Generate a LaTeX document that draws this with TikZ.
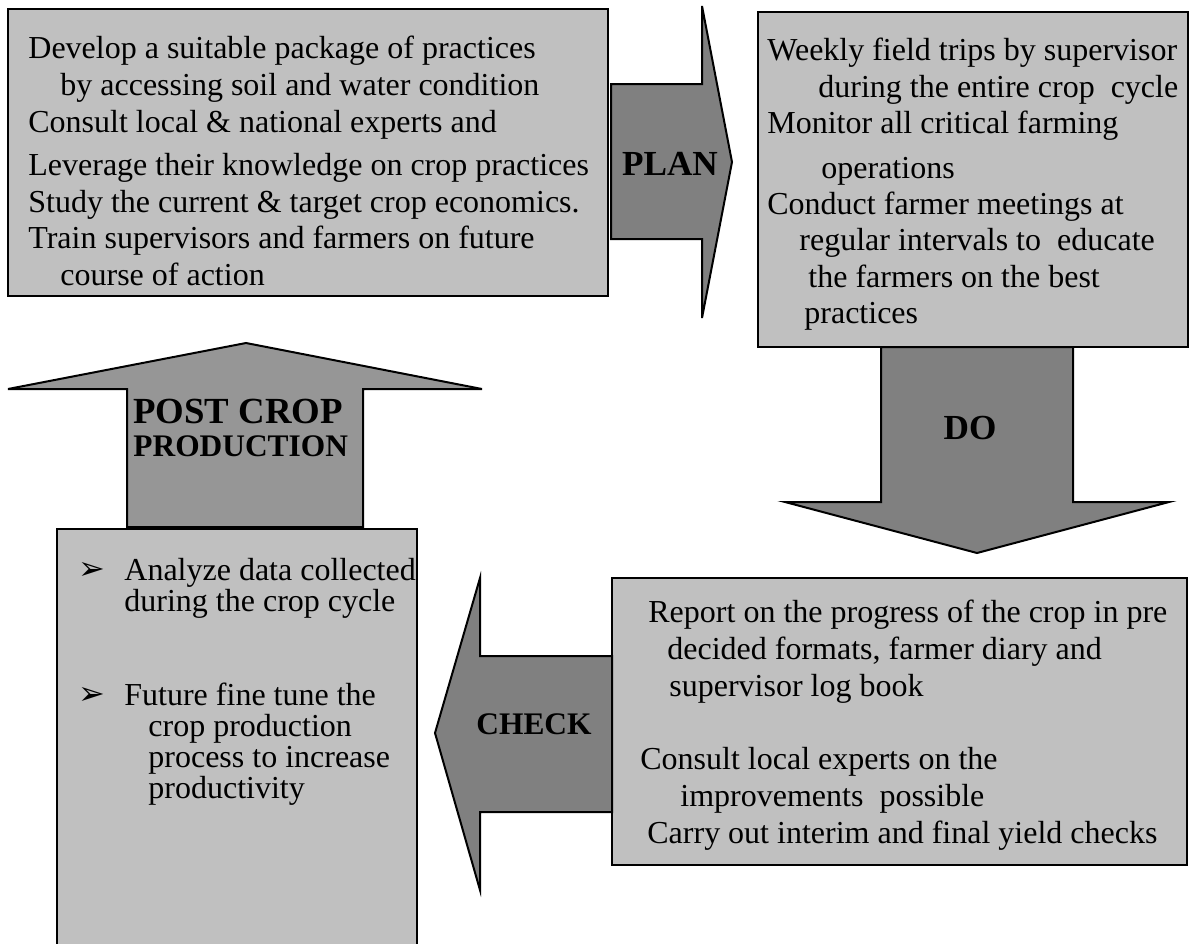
\documentclass[tikz,border=0pt]{standalone}
\usepackage{fontspec}
\setmainfont{Liberation Serif}
\newfontfamily\dingfont{DejaVu Sans}
\usetikzlibrary{positioning}
\definecolor{boxgray}{HTML}{C0C0C0}
\definecolor{arrgray}{HTML}{808080}
\definecolor{postgray}{HTML}{969696}
\newcommand{\bul}{\makebox[23pt][l]{\raisebox{0.5pt}{\dingfont\fontsize{16pt}{16pt}\selectfont ➢}}}

\begin{document}
\begin{tikzpicture}[x=0.5pt,y=-0.5pt,
  box/.style={draw,line width=1pt,fill=boxgray},
  blockarrow/.style={draw,line width=1pt,fill=arrgray,line join=miter},
  txt/.style={anchor=north west,inner sep=0pt,align=left,font=\fontsize{16pt}{18.4pt}\selectfont},
  lbl/.style={anchor=base,inner sep=0pt,font=\bfseries\fontsize{17.6pt}{20pt}\selectfont}]
\useasboundingbox (0,0) rectangle (1191,944);
\clip (0,0) rectangle (1191,944);

% text boxes
\draw[box] (8,9) rectangle (608,296);
\draw[box] (758,12) rectangle (1188,347);
\draw[box] (612,578) rectangle (1187,865);
\draw[box,line width=0.7pt] (57,529) rectangle (417,960);

% block arrows
\draw[blockarrow] (611,84) -- (702,84) -- (702,6) -- (732,162) -- (702,318) -- (702,239) -- (611,239) -- cycle;
\draw[blockarrow] (881,347) -- (881,502) -- (785,502) -- (977,553) -- (1169,502) -- (1073,502) -- (1073,347) -- cycle;
\draw[blockarrow] (612,656) -- (480,656) -- (480,578) -- (435,733) -- (480,890) -- (480,812) -- (612,812) -- cycle;
\draw[blockarrow,fill=postgray] (127,527) -- (127,389) -- (8,389) -- (246,343) -- (482,389) -- (363,389) -- (363,527) -- cycle;

\node[lbl] (plan) at (670,175) {PLAN};
\node[lbl] (do) at (970,439) {DO};
\node[lbl,font=\bfseries\fontsize{15.7pt}{18pt}\selectfont] (check) at (534,734) {CHECK};
\node[lbl,anchor=base west,font=\bfseries\fontsize{18.4pt}{20pt}\selectfont] (post) at (133,423) {POST CROP};
\node[lbl,anchor=base west,font=\bfseries\fontsize{15.7pt}{18pt}\selectfont] (prod) at (133,456) {PRODUCTION};

\node[txt] (plantxt) at (28,36) {Develop a suitable package of practices\\
\hspace*{16pt}by accessing soil and water condition\\
Consult local \& national experts and\\[3pt]
Leverage their knowledge on crop practices\\
Study the current \& target crop economics.\\
Train supervisors and farmers on future\\
\hspace*{16pt}course of action};

\node[txt,font=\fontsize{16pt}{18.1pt}\selectfont] (dotxt) at (767,38) {Weekly field trips by supervisor\\
\hspace*{25.5pt}during the entire crop\ \ cycle\\
Monitor all critical farming\\[4.5pt]
\hspace*{27pt}operations\\
Conduct farmer meetings at\\
\hspace*{16pt}regular intervals to\ \ educate\\
\hspace*{20.5pt}the farmers on the best\\
\hspace*{18.5pt}practices};

\node[txt,font=\fontsize{16pt}{18.35pt}\selectfont] (checktxt) at (640,600) {\hspace*{4pt}Report on the progress of the crop in pre\\
\hspace*{13.5pt}decided formats, farmer diary and\\
\hspace*{14.5pt}supervisor log book\\[18.35pt]
Consult local experts on the\\
\hspace*{20pt}improvements\ \ possible\\
\hspace*{3.5pt}Carry out interim and final yield checks};

\node[txt,font=\fontsize{16pt}{15.6pt}\selectfont] (posttxt) at (78,558) {\bul Analyze data collected\\
\hspace*{23pt}during the crop cycle\\[31pt]
\bul Future fine tune the\\
\hspace*{35pt}crop production\\
\hspace*{35pt}process to increase\\
\hspace*{35pt}productivity};
\end{tikzpicture}
\end{document}
